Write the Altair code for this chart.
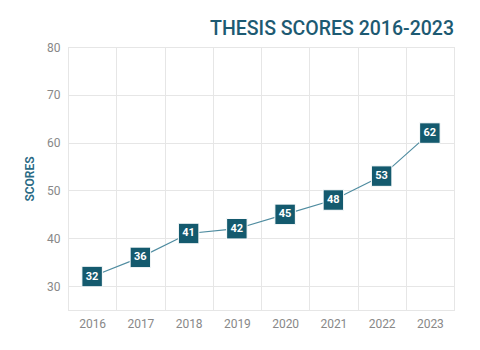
import altair as alt
import pandas as pd

years = ["2016", "2017", "2018", "2019", "2020", "2021", "2022", "2023"]
scores = [32, 36, 41, 42, 45, 48, 53, 62]

df = pd.DataFrame({"year": years, "score": scores})

TEAL = "#145a6e"
FONT = "Roboto"

x = alt.X("year:O", bandPosition=0.5,
          scale=alt.Scale(type="band", paddingInner=0, paddingOuter=0),
          axis=alt.Axis(title=None, labelAngle=0, tickBand="extent", grid=True,
                        ticks=False, domain=True, domainColor="#e6e6e6",
                        gridColor="#e6e6e6", labelColor="#888888", labelFontSize=12,
                        labelFont=FONT, labelPadding=8))
y = alt.Y("score:Q", scale=alt.Scale(domain=[25, 80], nice=False, zero=False),
          axis=alt.Axis(title="SCORES", values=[30, 40, 50, 60, 70, 80], grid=True,
                        ticks=False, domain=True, domainColor="#e6e6e6",
                        gridColor="#e6e6e6", labelColor="#888888", labelFontSize=12,
                        labelFont=FONT, labelPadding=8, titleColor="#2a6a84",
                        titleFont=FONT, titleFontSize=12, titleFontWeight=600,
                        titlePadding=10))

base = alt.Chart(df).encode(x=x, y=y)

line = base.mark_line(color="#4f8ca0", strokeWidth=1.2)
pts = base.mark_square(size=420, color=TEAL, opacity=1, stroke="white", strokeWidth=1)
txt = base.mark_text(color="white", font=FONT, fontSize=11, fontWeight="bold").encode(
    text="score:Q")

chart = (line + pts + txt).properties(
    width=386, height=263,
    title=alt.TitleParams("THESIS SCORES 2016-2023", anchor="end", font=FONT,
                          fontSize=19.5, fontWeight=500, color="#1d5a72",
                          offset=14, baseline="alphabetic", dy=27),
    autosize=alt.AutoSizeParams(type="none"),
    padding={"left": 68, "top": 47, "right": 26, "bottom": 40},
).configure_view(stroke=None).configure(background="white")

chart.save("out.html", embed_options={"renderer": "svg", "actions": False})
